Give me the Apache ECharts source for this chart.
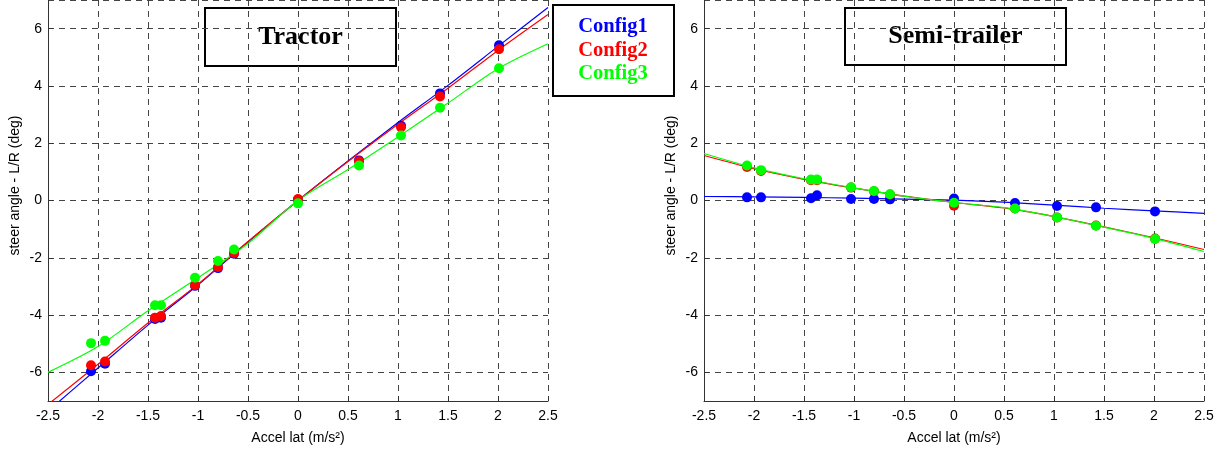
<!DOCTYPE html>
<html>
<head>
<meta charset="utf-8">
<script src="https://cdn.jsdelivr.net/npm/echarts@6/dist/echarts.min.js"></script>
<style>
  html, body { margin: 0; padding: 0; background: #fff; }
  #chart { width: 1219px; height: 450px; }
</style>
</head>
<body>
<div id="chart"></div>
<script>
// Measured lateral accelerations (m/s²), shared by the three configurations
const accelPts = [-2.07, -1.93, -1.43, -1.37, -1.03, -0.80, -0.64, 0.0, 0.61, 1.03, 1.42, 2.01];

// Tractor: steer angle - L/R (deg)
const tractorCfg1 = [-5.96, -5.70, -4.14, -4.09, -2.98, -2.36, -1.86, 0.03, 1.40, 2.61, 3.74, 5.42];
const tractorCfg2 = [-5.75, -5.62, -4.09, -4.03, -2.96, -2.32, -1.83, 0.05, 1.37, 2.56, 3.63, 5.28];
const tractorCfg3 = [-4.98, -4.90, -3.66, -3.66, -2.70, -2.11, -1.71, -0.10, 1.22, 2.27, 3.24, 4.62];

// Semi-trailer: steer angle - L/R (deg)
const semiCfg1 = [0.11, 0.11, 0.08, 0.18, 0.05, 0.05, 0.04, 0.07, -0.09, -0.19, -0.24, -0.38];
const semiCfg2 = [1.17, 1.03, 0.71, 0.71, 0.45, 0.32, 0.21, -0.18, -0.28, -0.59, -0.87, -1.33];
const semiCfg3 = [1.22, 1.06, 0.73, 0.73, 0.46, 0.33, 0.22, -0.08, -0.28, -0.59, -0.88, -1.34];

// Fitted curves, sampled along the acceleration range
const fitAccel = [-2.5, -2, -1.5, -1, -0.5, 0, 0.5, 1, 1.5, 2, 2.5];
const tractorFit1 = [-7.35, -5.85, -4.35, -2.95, -1.45, 0, 1.38, 2.72, 4.02, 5.38, 6.74];
const tractorFit2 = [-7.12, -5.72, -4.28, -2.92, -1.43, 0, 1.36, 2.66, 3.92, 5.24, 6.49];
const tractorFit3 = [-6.00, -5.10, -3.85, -2.70, -1.50, 0, 1.08, 2.22, 3.40, 4.60, 5.47];
const semiFit1 = [0.14, 0.13, 0.11, 0.08, 0.05, 0.01, -0.06, -0.16, -0.27, -0.36, -0.45];
const semiFit2 = [1.57, 1.11, 0.74, 0.43, 0.15, -0.07, -0.26, -0.56, -0.92, -1.30, -1.71];
const semiFit3 = [1.64, 1.14, 0.76, 0.44, 0.15, -0.07, -0.25, -0.56, -0.93, -1.32, -1.78];

const configNames = ['Config1', 'Config2', 'Config3'];
const panelTitles = ['Tractor', 'Semi-trailer'];
const xAxisName = 'Accel lat (m/s²)';
const yAxisName = 'steer angle - L/R (deg)';

const colors = ['#0000ff', '#ff0000', '#00ff00'];
const pairs = (xs, ys) => xs.map((x, i) => [x, ys[i]]);

const sansFont = '"Liberation Sans", Arial, sans-serif';
const serifFont = '"Liberation Serif", "Times New Roman", serif';

function xAxisFor(gridIndex) {
  return {
    type: 'value', gridIndex, min: -2.5, max: 2.5, interval: 0.5,
    name: xAxisName, nameLocation: 'middle', nameGap: 30,
    nameTextStyle: { fontFamily: sansFont, fontSize: 14, color: '#000' },
    axisLine: { show: true, onZero: false, lineStyle: { color: '#333', width: 1 } },
    axisTick: { show: true, inside: true, length: 5, lineStyle: { color: '#333' } },
    axisLabel: { fontFamily: sansFont, fontSize: 14, color: '#000', margin: 8 },
    splitLine: { show: true, lineStyle: { color: '#444', width: 1, type: [6, 5] } }
  };
}
function yAxisFor(gridIndex) {
  return {
    type: 'value', gridIndex, min: -7, max: 7, splitNumber: 7,
    name: yAxisName, nameLocation: 'middle', nameGap: 26,
    nameTextStyle: { fontFamily: sansFont, fontSize: 14, color: '#000', padding: [0, 0, 0, 30] },
    axisLine: { show: true, onZero: false, lineStyle: { color: '#333', width: 1 } },
    axisTick: { show: true, inside: true, length: 5, lineStyle: { color: '#333' } },
    axisLabel: { fontFamily: sansFont, fontSize: 14, color: '#000', margin: 6,
                 showMinLabel: false, showMaxLabel: false },
    splitLine: { show: true, lineStyle: { color: '#444', width: 1, type: [6, 5] } }
  };
}

function panelSeries(idx, pts, fits) {
  const out = [];
  fits.forEach((fit, k) => {
    out.push({
      type: 'line', xAxisIndex: idx, yAxisIndex: idx, name: configNames[k],
      data: pairs(fitAccel, fit), smooth: 0.3, showSymbol: false, clip: true,
      lineStyle: { color: colors[k], width: 1.2 }, z: 3 + k, silent: true
    });
  });
  pts.forEach((ys, k) => {
    out.push({
      type: 'scatter', xAxisIndex: idx, yAxisIndex: idx, name: configNames[k],
      data: pairs(accelPts, ys), symbol: 'circle', symbolSize: 10, clip: true,
      itemStyle: { color: colors[k], opacity: 1 }, z: 6 + k, silent: true
    });
  });
  return out;
}

function titleBox(x, y, w, h, text) {
  return {
    type: 'group', z: 100,
    children: [
      { type: 'rect', shape: { x, y, width: w, height: h },
        style: { fill: '#fff', stroke: '#000', lineWidth: 2 } },
      { type: 'text', x: x + w / 2, y: y + h / 2,
        style: { text, font: 'bold 26px ' + serifFont, fill: '#000',
                 align: 'center', verticalAlign: 'middle' } }
    ]
  };
}

const legendChildren = [
  { type: 'rect', shape: { x: 553, y: 5, width: 121, height: 91 },
    style: { fill: '#fff', stroke: '#000', lineWidth: 2 } }
];
configNames.forEach((name, k) => {
  legendChildren.push({
    type: 'text', x: 613, y: 27 + k * 23.5,
    style: { text: name, font: 'bold 20.5px ' + serifFont, fill: colors[k],
             align: 'center', verticalAlign: 'middle' }
  });
});

const chart = echarts.init(document.getElementById('chart'), null, { renderer: 'canvas' });
chart.setOption({
  animation: false,
  backgroundColor: '#fff',
  grid: [
    { left: 48, top: 0, width: 500, height: 403 },
    { left: 704, top: 0, width: 500, height: 403 }
  ],
  xAxis: [xAxisFor(0), xAxisFor(1)],
  yAxis: [yAxisFor(0), yAxisFor(1)],
  series: [
    ...panelSeries(0, [tractorCfg1, tractorCfg2, tractorCfg3], [tractorFit1, tractorFit2, tractorFit3]),
    ...panelSeries(1, [semiCfg1, semiCfg2, semiCfg3], [semiFit1, semiFit2, semiFit3])
  ],
  graphic: [
    titleBox(205, 8, 191, 58, panelTitles[0]),
    titleBox(845, 8, 221, 57, panelTitles[1]),
    { type: 'group', z: 100, children: legendChildren }
  ]
});
</script>
</body>
</html>
